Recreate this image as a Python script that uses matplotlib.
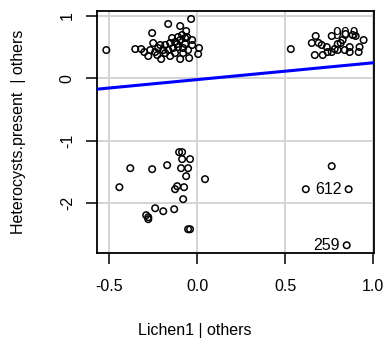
import matplotlib
matplotlib.use("Agg")
import matplotlib.pyplot as plt
import numpy as np

plt.rcParams['font.family'] = ['Liberation Sans', 'DejaVu Sans']

# added-variable residuals
# top-left group
x_tl = [-0.515, -0.351, -0.317, -0.300, -0.277, -0.255, -0.249, -0.164, -0.096, -0.034,
        -0.062, -0.108, -0.028, 0.011, 0.006, -0.045, -0.096, -0.153, -0.204, -0.226,
        -0.209, -0.181, -0.153, -0.125, -0.096, -0.068, -0.192, -0.164, -0.136, -0.108,
        -0.079, -0.051, -0.221, -0.238, -0.125, -0.181, -0.068, -0.142, -0.113, -0.085,
        -0.057, -0.266, -0.079, -0.028]
y_tl = [0.454, 0.470, 0.470, 0.422, 0.358, 0.727, 0.567, 0.872, 0.839, 0.952,
        0.759, 0.663, 0.535, 0.486, 0.390, 0.326, 0.310, 0.358, 0.310, 0.374,
        0.535, 0.535, 0.567, 0.583, 0.615, 0.647, 0.454, 0.454, 0.486, 0.502,
        0.486, 0.454, 0.486, 0.422, 0.406, 0.406, 0.551, 0.647, 0.551, 0.695,
        0.663, 0.454, 0.406, 0.615]
# top-right group
x_tr = [0.532, 0.673, 0.651, 0.690, 0.668, 0.713, 0.707, 0.736, 0.764, 0.843,
        0.883, 0.900, 0.945, 0.922, 0.917, 0.866, 0.866, 0.798, 0.764, 0.741,
        0.781, 0.815, 0.826, 0.798, 0.838]
y_tr = [0.470, 0.679, 0.567, 0.567, 0.374, 0.374, 0.535, 0.502, 0.679, 0.711,
        0.695, 0.679, 0.615, 0.502, 0.422, 0.422, 0.502, 0.454, 0.422, 0.422,
        0.470, 0.567, 0.615, 0.551, 0.454]
# bottom-left group
x_bl = [-0.102, -0.085, -0.040, -0.085, -0.170, -0.379, -0.255, -0.091, -0.051, -0.062,
        0.045, -0.441, -0.113, -0.125, -0.074, -0.079, -0.238, -0.192, -0.130, -0.289,
        -0.277, -0.277, -0.051, -0.040]
y_bl = [-1.183, -1.183, -1.295, -1.295, -1.392, -1.440, -1.456, -1.440, -1.440, -1.568,
        -1.616, -1.745, -1.729, -1.777, -1.745, -1.937, -2.082, -2.130, -2.098, -2.194,
        -2.258, -2.226, -2.419, -2.419]
# bottom-right group
x_br = [0.764, 0.617, 0.860, 0.849]
y_br = [-1.408, -1.777, -1.777, -2.676]

# labelled points
lab_x = [0.960, 0.860, 0.849]
lab_y = [0.700, -1.777, -2.676]
lab_txt = ['909', '612', '259']

slope = 0.27
intercept = -0.02

x_all = np.array(x_tl + x_tr + x_bl + x_br)
y_all = np.array(y_tl + y_tr + y_bl + y_br)

fs = 11.5

fig = plt.figure(figsize=(3.9, 3.43), dpi=100)
ax = fig.add_axes([97/390, 1 - 253/343, 277/390, 242/343])

# grid at tick positions
for gx in [-0.5, 0.0, 0.5, 1.0]:
    ax.axvline(gx, color='lightgray', lw=1.4, zorder=0)
for gy in [-2, -1, 0, 1]:
    ax.axhline(gy, color='lightgray', lw=1.4, zorder=0)

ax.scatter(x_all, y_all, s=22, facecolors='none', edgecolors='black', linewidths=1.1, zorder=3)

xl = np.array([-0.568, 1.004])
ax.plot(xl, intercept + slope * xl, color='blue', lw=2.2, zorder=4)

for tx, ty, t in zip(lab_x, lab_y, lab_txt):
    ax.annotate(t, (tx, ty), xytext=(-5, 0), textcoords='offset points',
                ha='right', va='center', fontsize=fs, zorder=5)

ax.set_xlim(-0.568, 1.004)
ax.set_ylim(-2.80, 1.08)
ax.set_xticks([-0.5, 0.0, 0.5, 1.0])
ax.set_xticklabels(['-0.5', '0.0', '0.5', '1.0'])
ax.set_yticks([-2, -1, 0, 1])
ax.set_yticklabels(['-2', '-1', '0', '1'], rotation=90, va='center')
ax.tick_params(axis='both', length=8, width=1.1, labelsize=fs)
ax.tick_params(axis='x', pad=11)
ax.tick_params(axis='y', pad=8)
for sp in ax.spines.values():
    sp.set_linewidth(1.3)

fig.text(195/390, 1 - 330/343, 'Lichen1 | others', ha='center', va='center', fontsize=fs)
fig.text(19/390, 1 - 132/343, 'Heterocysts.present  | others', ha='center', va='center',
         rotation=90, fontsize=fs)

fig.savefig('out.png', dpi=100)
